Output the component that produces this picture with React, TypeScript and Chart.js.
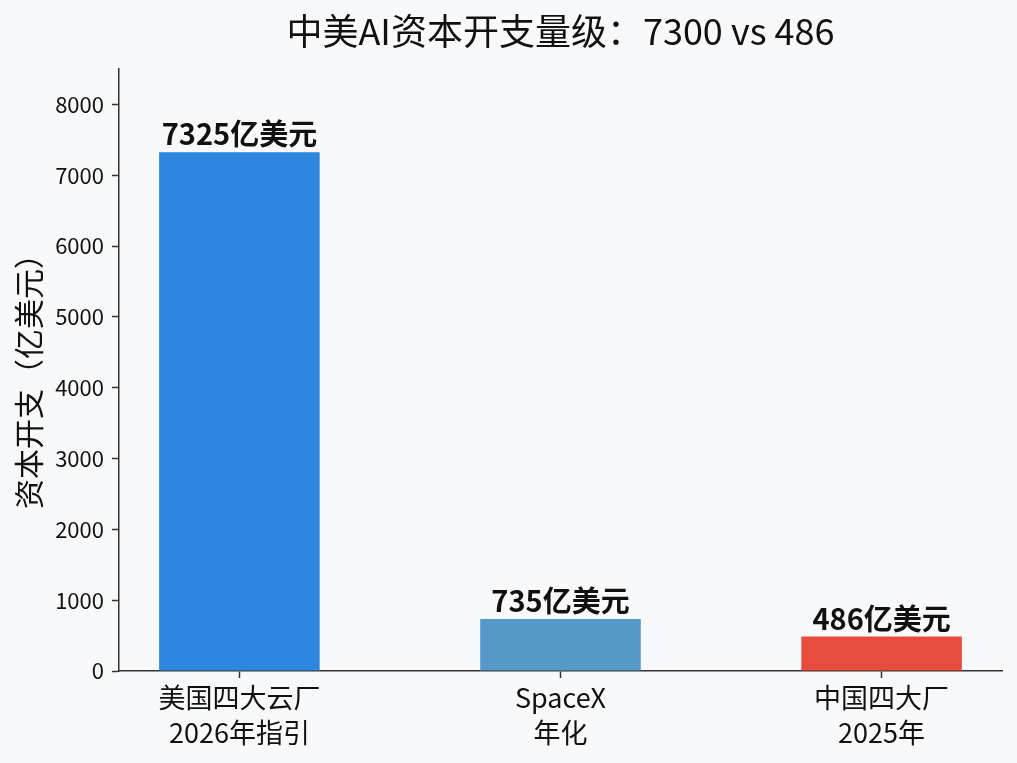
import React, { useEffect, useRef } from "react";
import { Chart, registerables } from "chart.js";

Chart.register(...registerables);

// Chart content
const titleText = "中美AI资本开支量级：7300 vs 486";
const yAxisTitle = "资本开支（亿美元）";
const categories: string[][] = [
  ["美国四大云厂", "2026年指引"],
  ["SpaceX", "年化"],
  ["中国四大厂", "2025年"],
];
const capex = [7325, 735, 486];
const valueLabels = ["7325亿美元", "735亿美元", "486亿美元"];
const barColors = ["#2E86DE", "#5499C7", "#E74C3C"];
const yTicks = [0, 1000, 2000, 3000, 4000, 5000, 6000, 7000, 8000];
const yMax = 8500;

const FONT = "'Noto Sans CJK SC', 'Noto Sans', sans-serif";
const INK = "#111111";
const AXIS = "#333333";

const annotations = {
  id: "annotations",
  afterDatasetsDraw(chart: any) {
    const { ctx, chartArea } = chart;
    const meta = chart.getDatasetMeta(0);
    ctx.save();
    // value labels above each bar
    ctx.fillStyle = INK;
    ctx.font = `bold 29px ${FONT}`;
    ctx.textAlign = "center";
    ctx.textBaseline = "alphabetic";
    meta.data.forEach((bar: any, i: number) => {
      ctx.fillText(valueLabels[i], bar.x, bar.y - 7);
    });
    // title
    ctx.font = `36px ${FONT}`;
    ctx.textBaseline = "middle";
    ctx.fillText(titleText, (chartArea.left + chartArea.right) / 2, 31);
    // y axis title
    ctx.font = `30px ${FONT}`;
    ctx.translate(29, (chartArea.top + chartArea.bottom) / 2 + 4);
    ctx.rotate(-Math.PI / 2);
    ctx.fillText(yAxisTitle, 0, 0);
    ctx.restore();
  },
};

export default function App() {
  const canvasRef = useRef<HTMLCanvasElement | null>(null);

  useEffect(() => {
    const canvas = canvasRef.current;
    if (!canvas) return;
    const chart = new Chart(canvas, {
      type: "bar",
      data: {
        datasets: [
          {
            data: capex.map((v, i) => ({ x: i, y: v })),
            backgroundColor: barColors,
            borderWidth: 0,
            barPercentage: 0.5,
            categoryPercentage: 1,
          },
        ],
      },
      options: {
        responsive: false,
        animation: false,
        devicePixelRatio: 1,
        layout: { padding: { top: 69, right: 15, left: 0, bottom: 0 } },
        plugins: {
          legend: { display: false },
          tooltip: { enabled: false },
          title: { display: false },
        },
        scales: {
          x: {
            type: "linear",
            offset: false,
            min: -0.375,
            max: 2.375,
            afterBuildTicks: (scale: any) => {
              scale.ticks = categories.map((_, i) => ({ value: i }));
            },
            afterFit: (scale: any) => {
              scale.height = 92;
            },
            ticks: {
              color: INK,
              font: { family: FONT, size: 27, lineHeight: 1.3 },
              padding: 2,
              maxRotation: 0,
              autoSkip: false,
              callback: (v: any) => categories[Math.round(Number(v))],
            },
            grid: {
              offset: false,
              drawOnChartArea: false,
              drawTicks: true,
              tickLength: 7,
              tickColor: AXIS,
              tickWidth: 1.5,
            },
            border: { display: true, color: AXIS, width: 1.5 },
          },
          y: {
            type: "linear",
            min: 0,
            max: yMax,
            afterBuildTicks: (scale: any) => {
              scale.ticks = yTicks.map((v) => ({ value: v }));
            },
            afterFit: (scale: any) => {
              scale.width = 119;
            },
            ticks: {
              color: INK,
              font: { family: FONT, size: 22 },
              padding: 8,
              autoSkip: false,
              callback: (v: any) => String(v),
            },
            grid: {
              drawOnChartArea: false,
              drawTicks: true,
              tickLength: 7,
              tickColor: AXIS,
              tickWidth: 1.5,
            },
            border: { display: true, color: AXIS, width: 1.5 },
          },
        },
      },
      plugins: [annotations],
    });
    return () => chart.destroy();
  }, []);

  return (
    <div
      style={{
        position: "fixed",
        left: 0,
        top: 0,
        width: 1017,
        height: 763,
        background: "#F8F9FB",
      }}
    >
      <canvas ref={canvasRef} width={1017} height={763} />
    </div>
  );
}
